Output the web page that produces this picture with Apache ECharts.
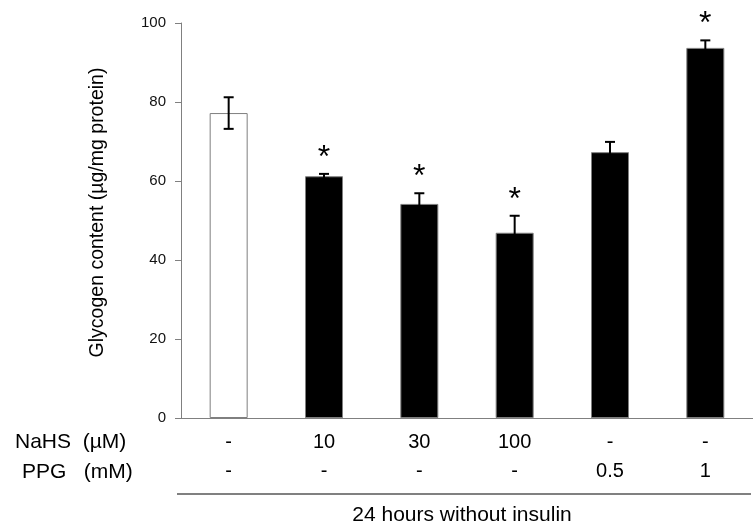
<!DOCTYPE html>
<html><head><meta charset="utf-8">
<script src="https://cdn.jsdelivr.net/npm/echarts@6/dist/echarts.min.js"></script>
<style>html,body{margin:0;padding:0;background:#fff}#c{width:753px;height:529px}</style>
</head><body><div id="c"></div>
<script>
const categories = ['Control', 'NaHS 10', 'NaHS 30', 'NaHS 100', 'PPG 0.5', 'PPG 1'];
const nahsLabels = ['-', '10', '30', '100', '-', '-'];
const ppgLabels = ['-', '-', '-', '-', '0.5', '1'];
const glycogen = [77.2, 61.2, 54.2, 46.9, 67.3, 93.7];
const sem = [4.0, 0.6, 2.7, 4.3, 2.6, 1.9];
const significant = [0, 1, 1, 1, 0, 1];
const barColors = ['#ffffff', '#000000', '#000000', '#000000', '#000000', '#000000'];

const FONT = 'Liberation Sans, Arial, sans-serif';
const chart = echarts.init(document.getElementById('c'), null, {renderer: 'canvas'});

const errData = glycogen.map((v, i) => [i, v, sem[i], significant[i]]);

chart.setOption({
  animation: false,
  backgroundColor: '#fff',
  grid: {left: 181, top: 23, width: 576, height: 395, containLabel: false},
  xAxis: {
    type: 'category',
    data: categories,
    axisLine: {show: true, lineStyle: {color: '#808080', width: 1}},
    axisTick: {show: false},
    axisLabel: {
      margin: 10,
      lineHeight: 29,
      fontFamily: FONT,
      fontSize: 20,
      color: '#000',
      formatter: (val, idx) => nahsLabels[idx] + '\n' + ppgLabels[idx]
    },
    splitLine: {show: false}
  },
  yAxis: {
    type: 'value',
    min: 0, max: 100, interval: 20,
    name: 'Glycogen content (µg/mg protein)',
    nameLocation: 'middle',
    nameGap: 83,
    nameTextStyle: {fontFamily: FONT, fontSize: 19.5, color: '#000', verticalAlign: 'middle', padding: [0, 0, 0, 16]},
    axisLine: {show: true, lineStyle: {color: '#808080', width: 1}},
    axisTick: {show: true, length: 6, lineStyle: {color: '#808080'}},
    axisLabel: {margin: 15, fontFamily: FONT, fontSize: 15, color: '#111'},
    splitLine: {show: false}
  },
  series: [
    {
      type: 'bar',
      barWidth: 38,
      data: glycogen.map((v, i) => ({value: v, itemStyle: {color: barColors[i], borderColor: '#7f7f7f', borderWidth: 1}})),
      z: 2
    },
    {
      type: 'custom',
      data: errData,
      z: 3,
      renderItem: (params, api) => {
        const i = api.value(0), v = api.value(1), e = api.value(2), sig = api.value(3);
        const top = api.coord([i, v + e]);
        const bot = api.coord([i, v - e]);
        const hw = 5;
        const st = {stroke: '#000', lineWidth: 2};
        const children = [
          {type: 'line', shape: {x1: top[0], y1: top[1], x2: bot[0], y2: bot[1]}, style: st},
          {type: 'line', shape: {x1: top[0] - hw, y1: top[1], x2: top[0] + hw, y2: top[1]}, style: st},
          {type: 'line', shape: {x1: bot[0] - hw, y1: bot[1], x2: bot[0] + hw, y2: bot[1]}, style: st}
        ];
        if (sig) {
          children.push({type: 'text', x: top[0], y: top[1] - 16,
            style: {text: '*', fill: '#000', font: '32px ' + FONT, align: 'center', verticalAlign: 'middle'}});
        }
        return {type: 'group', children};
      }
    }
  ],
  graphic: [
    {type: 'text', x: 15, y: 442, style: {text: 'NaHS  (µM)', font: '21px ' + FONT, fill: '#000', verticalAlign: 'middle'}},
    {type: 'text', x: 22, y: 472, style: {text: 'PPG   (mM)', font: '21px ' + FONT, fill: '#000', verticalAlign: 'middle'}},
    {type: 'line', shape: {x1: 177, y1: 494, x2: 751, y2: 494}, style: {stroke: '#808080', lineWidth: 2}},
    {type: 'text', x: 462, y: 515, style: {text: '24 hours without insulin', font: '21px ' + FONT, fill: '#000', align: 'center', verticalAlign: 'middle'}}
  ]
});
</script></body></html>
